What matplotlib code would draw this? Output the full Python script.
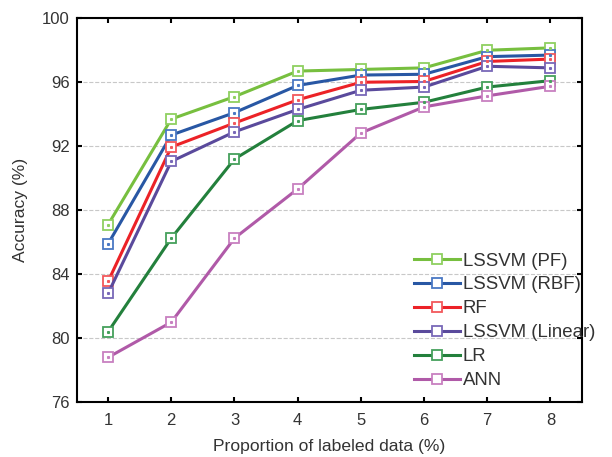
import matplotlib
matplotlib.use('Agg')
import matplotlib.pyplot as plt

plt.rcParams['font.family'] = ['Liberation Sans', 'DejaVu Sans']
plt.rcParams['text.color'] = '#333333'
plt.rcParams['xtick.labelcolor'] = '#333333'
plt.rcParams['ytick.labelcolor'] = '#333333'
plt.rcParams['axes.labelcolor'] = '#333333'

# proportion of labeled data (%)
x = [1, 2, 3, 4, 5, 6, 7, 8]

# accuracy (%)
pf = [87.1, 93.7, 95.1, 96.7, 96.8, 96.9, 98.0, 98.15]
rbf = [85.9, 92.7, 94.1, 95.8, 96.45, 96.5, 97.6, 97.7]
rf = [83.55, 91.95, 93.45, 94.9, 96.0, 96.05, 97.3, 97.45]
linear = [82.8, 91.05, 92.9, 94.3, 95.5, 95.7, 97.0, 96.9]
lr = [80.4, 86.25, 91.2, 93.6, 94.3, 94.75, 95.7, 96.1]
ann = [78.8, 81.0, 86.25, 89.33, 92.83, 94.46, 95.15, 95.75]

series = [
    ('LSSVM (PF)', pf, '#77bf3f', '#8fd060'),
    ('LSSVM (RBF)', rbf, '#2857a4', '#4a78c4'),
    ('RF', rf, '#ec2227', '#f2585c'),
    ('LSSVM (Linear)', linear, '#5a4a9c', '#7868b8'),
    ('LR', lr, '#23803c', '#45a05c'),
    ('ANN', ann, '#b05aa8', '#c880c0'),
]

fig = plt.figure(figsize=(6.12, 4.57), dpi=100)
ax = fig.add_axes([0.125, 0.120, 0.826, 0.840])

for name, y, c, mc in series:
    ax.plot(x, y, color=c, lw=2.2, marker='s', ms=7.5, mfc='white',
            mec=mc, mew=1.3, label=name, zorder=3)
    ax.plot(x, y, ls='none', marker='s', ms=1.2, color=mc, zorder=4)

ax.set_xlim(0.5, 8.5)
ax.set_ylim(76, 100)
ax.set_xticks(x)
ax.set_yticks([76, 80, 84, 88, 92, 96, 100])
ax.grid(axis='y', ls='--', color='#c8c8c8', lw=0.8, zorder=0)
ax.tick_params(direction='in', top=True, right=True, labelsize=12,
               width=1.5, length=3.5, pad=5)
ax.tick_params(axis='x', pad=8)
for s in ax.spines.values():
    s.set_linewidth(1.5)

ax.set_xlabel('Proportion of labeled data (%)', fontsize=12.6, labelpad=8)
ax.set_ylabel('Accuracy (%)', fontsize=12.6, labelpad=10)

ax.legend(loc='lower right', frameon=False, fontsize=13.4, handlelength=2.5,
          handletextpad=0.15, labelspacing=0.37, borderaxespad=0.3,
          bbox_to_anchor=(1.052, 0.0))

fig.savefig('out.png', dpi=100)
